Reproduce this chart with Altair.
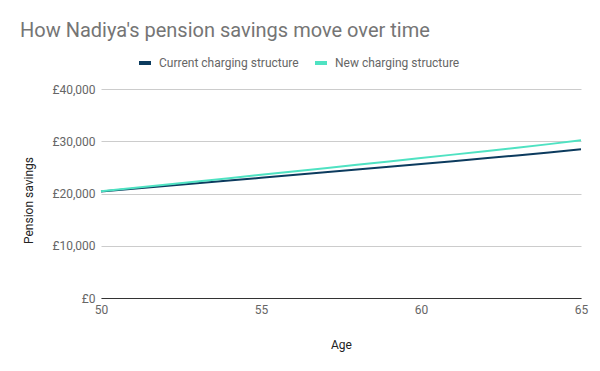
import altair as alt
import pandas as pd

ages = list(range(50, 66))
current = [20400, 20900, 21430, 21950, 22470, 23000, 23520, 24050, 24580, 25110, 25640, 26180, 26730, 27290, 27860, 28450]
new = [20450, 21070, 21690, 22310, 22940, 23570, 24200, 24840, 25480, 26130, 26780, 27440, 28100, 28770, 29450, 30200]
series_names = ["Current charging structure", "New charging structure"]
colors = ["#0c3b5e", "#4fe2c2"]
y_ticks = [0, 10000, 20000, 30000, 40000]
x_ticks = [50, 55, 60, 65]

rows = []
for a, c, n in zip(ages, current, new):
    rows.append({"Age": a, "Series": series_names[0], "Value": c})
    rows.append({"Age": a, "Series": series_names[1], "Value": n})
df = pd.DataFrame(rows)

chart = alt.Chart(df).mark_line(strokeWidth=2).encode(
    x=alt.X("Age:Q", scale=alt.Scale(domain=[50, 65], nice=False),
            axis=alt.Axis(values=x_ticks, title="Age", grid=False, ticks=False,
                          domainColor="#333333", labelPadding=6, titlePadding=24,
                          labelFlush=False,
                          labelColor="#666666", titleColor="#222222",
                          labelFont="Roboto", titleFont="Roboto",
                          labelFontSize=12, titleFontSize=12, titleFontWeight="normal")),
    y=alt.Y("Value:Q", scale=alt.Scale(domain=[0, 40000], nice=False),
            axis=alt.Axis(values=y_ticks, title="Pension savings", grid=True,
                          gridColor="#cccccc", ticks=False, domain=False,
                          labelExpr="'£' + format(datum.value, ',')",
                          labelPadding=6, titlePadding=16, titleY=111,
                          labelColor="#666666", titleColor="#222222",
                          labelFont="Roboto", titleFont="Roboto",
                          labelFontSize=12, titleFontSize=12, titleFontWeight="normal")),
    color=alt.Color("Series:N", scale=alt.Scale(domain=series_names, range=colors),
                    legend=alt.Legend(title=None, orient="none", direction="horizontal",
                                      legendX=36, legendY=-34,
                                      symbolType="stroke", symbolStrokeWidth=4, symbolSize=144,
                                      labelFont="Roboto", labelFontSize=12, labelColor="#666666",
                                      columnPadding=8, labelOffset=6)),
).properties(
    width=480,
    height=209,
    autosize=alt.AutoSizeParams(type="none"),
    padding={"left": 93, "top": 81, "right": 11, "bottom": 65},
    title=alt.TitleParams("How Nadiya's pension savings move over time",
                          anchor="start", frame="group", font="Roboto",
                          fontSize=20, fontWeight="normal", color="#757575",
                          dx=-81, offset=14),
).configure_view(stroke=None)

chart.save("out.html", embed_options={"renderer": "svg", "actions": False})
